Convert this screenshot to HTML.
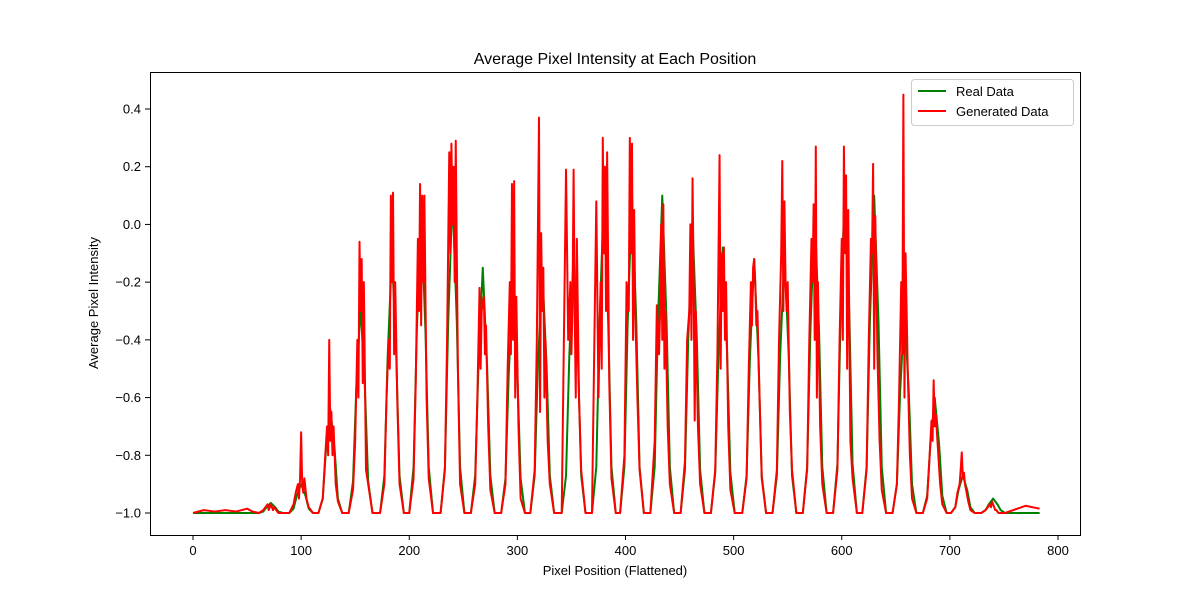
<!DOCTYPE html>
<html><head><meta charset="utf-8"><style>
body{margin:0;background:#fff;}
svg text{font-family:"Liberation Sans","DejaVu Sans",sans-serif;fill:#000;}
</style></head><body>
<svg id="chart" width="1200" height="600" xmlns="http://www.w3.org/2000/svg">
<rect width="1200" height="600" fill="#fff"/>
<text x="615" y="64" font-size="16" text-anchor="middle">Average Pixel Intensity at Each Position</text>
<g id="grid"></g>
<g id="series"></g>
<rect x="150.5" y="72.5" width="930" height="463" fill="none" stroke="#000" stroke-width="1"/>
<text x="615" y="575" font-size="13" text-anchor="middle">Pixel Position (Flattened)</text>
<text x="98" y="303" font-size="13" text-anchor="middle" transform="rotate(-90 98 303)">Average Pixel Intensity</text>
<g>
<rect x="911.5" y="79.5" width="162" height="46" fill="#fff" stroke="#ccc" rx="3"/>
<line x1="918" y1="91" x2="946" y2="91" stroke="#008000" stroke-width="2"/>
<text x="956" y="96" font-size="13">Real Data</text>
<line x1="918" y1="111" x2="946" y2="111" stroke="#ff0000" stroke-width="2"/>
<text x="956" y="116" font-size="13">Generated Data</text>
</g>
</svg>
<script>
const xTicks=[0,100,200,300,400,500,600,700,800];
const yTicks=[-1.0,-0.8,-0.6,-0.4,-0.2,0.0,0.2,0.4];
const realCenters=[72,100,127,155,184,211,240,268,296,323,352,380,406,434,462,490,519,547,575,603,630,658,686,712,740];
const realPeaks=[-0.965,-0.9,-0.64,-0.28,-0.1,0.05,0.1,-0.15,-0.2,-0.15,-0.1,0.1,0.1,0.1,0.0,-0.08,-0.12,-0.1,0.05,0.15,0.1,-0.3,-0.6,-0.87,-0.95];
const realShoulders=[-0.98,-0.94,-0.78,-0.57,-0.46,-0.37,-0.34,-0.49,-0.52,-0.49,-0.46,-0.34,-0.34,-0.34,-0.4,-0.45,-0.47,-0.46,-0.37,-0.31,-0.34,-0.58,-0.76,-0.92,-0.97];
const realFeet=[-0.995,-0.985,-0.95,-0.89,-0.87,-0.84,-0.84,-0.87,-0.88,-0.87,-0.87,-0.84,-0.84,-0.84,-0.85,-0.86,-0.87,-0.87,-0.84,-0.83,-0.84,-0.9,-0.94,-0.98,-0.99];
const redCenters=[72,100,127,155,184,211,240,268,296,323,352,380,406,434,462,490,519,547,575,603,630,658,686,712,740];
const redOffsets=[-11,-7,-5,-3,-2,-1,0,1,2,3,5,7,11];
const redRows=[
[-1,-0.99,-0.98,-0.97,-0.99,-0.98,-0.97,-0.98,-0.99,-0.98,-0.99,-1,-1],
[-1,-0.97,-0.93,-0.9,-0.95,-0.88,-0.72,-0.9,-0.93,-0.88,-0.95,-0.98,-1],
[-1,-0.95,-0.82,-0.7,-0.8,-0.4,-0.75,-0.65,-0.8,-0.7,-0.9,-0.96,-1],
[-1,-0.92,-0.75,-0.4,-0.6,-0.06,-0.3,-0.12,-0.55,-0.2,-0.85,-0.9,-1],
[-1,-0.9,-0.6,-0.4,-0.5,0.1,-0.2,0.11,-0.45,-0.2,-0.62,-0.9,-1],
[-1,-0.88,-0.55,-0.05,-0.3,0.14,-0.35,0.1,-0.2,0.1,-0.6,-0.88,-1],
[-1,-0.85,-0.4,0.25,-0.1,0.28,0.0,0.2,-0.2,0.29,-0.5,-0.9,-1],
[-1,-0.9,-0.6,-0.22,-0.5,-0.3,-0.27,-0.25,-0.45,-0.35,-0.7,-0.92,-1],
[-1,-0.9,-0.5,-0.2,-0.45,0.14,-0.4,0.15,-0.6,-0.25,-0.7,-0.95,-1],
[-1,-0.85,-0.4,0.37,-0.65,-0.03,-0.3,-0.15,-0.6,-0.4,-0.75,-0.9,-1],
[-1,0.19,-0.4,-0.2,-0.45,-0.28,0.19,-0.3,-0.6,-0.05,-0.6,-0.85,-1],
[-1,0.08,-0.6,-0.2,-0.5,0.3,-0.1,0.2,-0.3,0.25,-0.55,-0.88,-1],
[-1,-0.8,-0.2,-0.3,0.3,-0.1,0.28,-0.4,0.05,-0.3,-0.6,-0.85,-1],
[-1,-0.75,-0.28,-0.45,-0.3,0.0,-0.4,0.07,-0.5,-0.3,-0.7,-0.9,-1],
[-1,-0.82,-0.4,-0.3,0.0,-0.4,0.16,-0.2,-0.68,-0.3,-0.7,-0.9,-1],
[-1,-0.85,-0.45,0.24,-0.5,-0.1,-0.3,-0.08,-0.4,-0.2,-0.7,-0.92,-1],
[-1,-0.88,-0.5,-0.2,-0.35,-0.15,-0.12,-0.2,-0.35,-0.3,-0.6,-0.88,-1],
[-1,-0.85,-0.4,-0.1,0.22,-0.3,0.08,-0.2,-0.3,-0.2,-0.65,-0.85,-1],
[-1,-0.85,-0.4,-0.05,-0.2,0.07,-0.4,0.27,-0.6,-0.2,-0.7,-0.9,-1],
[-1,-0.85,-0.4,-0.05,-0.4,0.27,-0.1,0.17,-0.5,0.05,-0.75,-0.88,-1],
[-1,-0.85,-0.4,-0.05,-0.1,0.21,-0.5,0.03,-0.2,-0.45,-0.75,-0.92,-1],
[-1,-0.9,-0.6,-0.2,-0.45,0.45,-0.6,-0.1,-0.3,-0.5,-0.8,-0.95,-1],
[-1,-0.95,-0.82,-0.68,-0.75,-0.54,-0.7,-0.66,-0.72,-0.78,-0.9,-0.97,-1],
[-1,-0.98,-0.93,-0.9,-0.85,-0.79,-0.88,-0.86,-0.9,-0.92,-0.96,-0.99,-1],
[-1,-0.99,-0.98,-0.97,-0.98,-0.96,-0.97,-0.98,-0.99,-0.99,-1,-1,-1]];
const redBaseX=[0,10,20,30,40,50,55,770,783];
const redBaseY=[-1,-0.99,-0.995,-0.99,-0.995,-0.985,-0.995,-0.975,-0.985];

const NS="http://www.w3.org/2000/svg";
const xs=v=>193+v*(1058-193)/800;
const ys=v=>513-(v+1)*(513-109)/1.4;
const grid=document.getElementById('grid'), ser=document.getElementById('series');
function mk(tag,at,parent){const e=document.createElementNS(NS,tag);for(const k in at)e.setAttribute(k,at[k]);parent.appendChild(e);return e;}
xTicks.forEach(t=>{
  const l=mk('line',{x1:xs(t),x2:xs(t),y1:535,y2:540,stroke:'#000'},grid);
  
  
  const tx=mk('text',{x:xs(t),y:555,'font-size':13,'text-anchor':'middle'},grid);tx.textContent=t;
  
  
});
yTicks.forEach(t=>{
  const l=mk('line',{x1:145,x2:150,y1:ys(t),y2:ys(t),stroke:'#000'},grid);
  
  
  const tx=mk('text',{x:141,y:ys(t)+4.5,'font-size':13,'text-anchor':'end'},grid);tx.textContent=t.toFixed(1).replace('-','\u2212');
  
  
});
// real series points
let rp=[[0,-1]];
realCenters.forEach((c,i)=>{
  rp.push([c-11,-1],[c-7,realFeet[i]],[c-4,realShoulders[i]],[c,realPeaks[i]],[c+4,realShoulders[i]],[c+7,realFeet[i]],[c+11,-1]);
});
rp.push([783,-1]);
rp.sort((a,b)=>a[0]-b[0]);
const gl=mk('polyline',{points:rp.map(p=>xs(p[0])+','+ys(p[1])).join(' '),fill:'none',stroke:'#008000','stroke-width':2,'stroke-linejoin':'round'},ser);


// generated series points
let gp=redBaseX.map((x,i)=>[x,redBaseY[i]]);
redCenters.forEach((c,i)=>{redOffsets.forEach((o,j)=>gp.push([c+o,redRows[i][j]]));});
gp.sort((a,b)=>a[0]-b[0]);
const rl=mk('polyline',{points:gp.map(p=>xs(p[0])+','+ys(p[1])).join(' '),fill:'none',stroke:'#ff0000','stroke-width':2,'stroke-linejoin':'round'},ser);


</script>
</body></html>
